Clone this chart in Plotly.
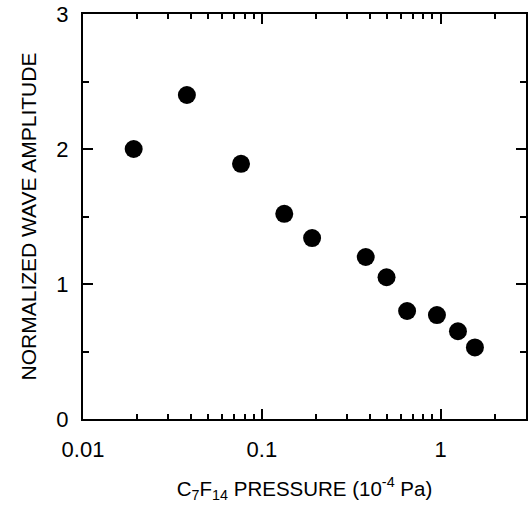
import plotly.graph_objects as go

# Data
pressure = [0.0192, 0.0381, 0.0765, 0.1335, 0.191, 0.381, 0.498, 0.649, 0.953, 1.249, 1.554]
amplitude = [2.00, 2.40, 1.89, 1.52, 1.34, 1.20, 1.05, 0.80, 0.77, 0.65, 0.53]

x_tickvals = [0.01, 0.1, 1]
x_ticktext = ["0.01", "0.1", "1"]
x_minor = [m * d for d in (0.01, 0.1, 1) for m in range(2, 10) if m * d <= 3]
y_tickvals = [0, 1, 2, 3]

FONT = "Liberation Sans, Arial, sans-serif"

fig = go.Figure()
fig.add_trace(go.Scatter(
    x=pressure, y=amplitude, mode="markers",
    marker=dict(size=18, color="black"),
    showlegend=False,
))

fig.update_layout(
    template="none",
    width=528, height=508,
    margin=dict(l=83, r=2, t=14, b=89),
    paper_bgcolor="white", plot_bgcolor="white",
    font=dict(family=FONT, color="black", size=20),
)

fig.update_xaxes(
    type="log", range=[-2, 0.4771],
    tickmode="array", tickvals=x_tickvals, ticktext=x_ticktext,
    ticks="inside", ticklen=10, tickwidth=2, tickcolor="black",
    minor=dict(tickmode="array", tickvals=x_minor, ticks="inside", ticklen=5,
               tickwidth=2, tickcolor="black", showgrid=False),
    showline=True, linewidth=2, linecolor="black", mirror="ticks",
    showgrid=False, zeroline=False, automargin=False,
    tickfont=dict(size=22), ticklabelstandoff=10,
    title=dict(text="C<sub>7</sub>F<sub>14</sub> PRESSURE (10<sup>-4</sup> Pa)",
               font=dict(size=20.5), standoff=20),
)
fig.update_yaxes(
    range=[0, 3],
    tickmode="array", tickvals=y_tickvals,
    ticks="inside", ticklen=10, tickwidth=2, tickcolor="black",
    minor=dict(tickmode="linear", tick0=0, dtick=0.5, ticks="inside", ticklen=6,
               tickwidth=2, tickcolor="black", showgrid=False),
    showline=True, linewidth=2, linecolor="black", mirror="ticks",
    showgrid=False, zeroline=False, automargin=False,
    tickfont=dict(size=22), ticklabelstandoff=8,
    title=dict(text="NORMALIZED WAVE AMPLITUDE", font=dict(size=21), standoff=14),
)

fig.write_html("out.html", config={"displayModeBar": False},
               post_script="document.body.style.margin='0';")
